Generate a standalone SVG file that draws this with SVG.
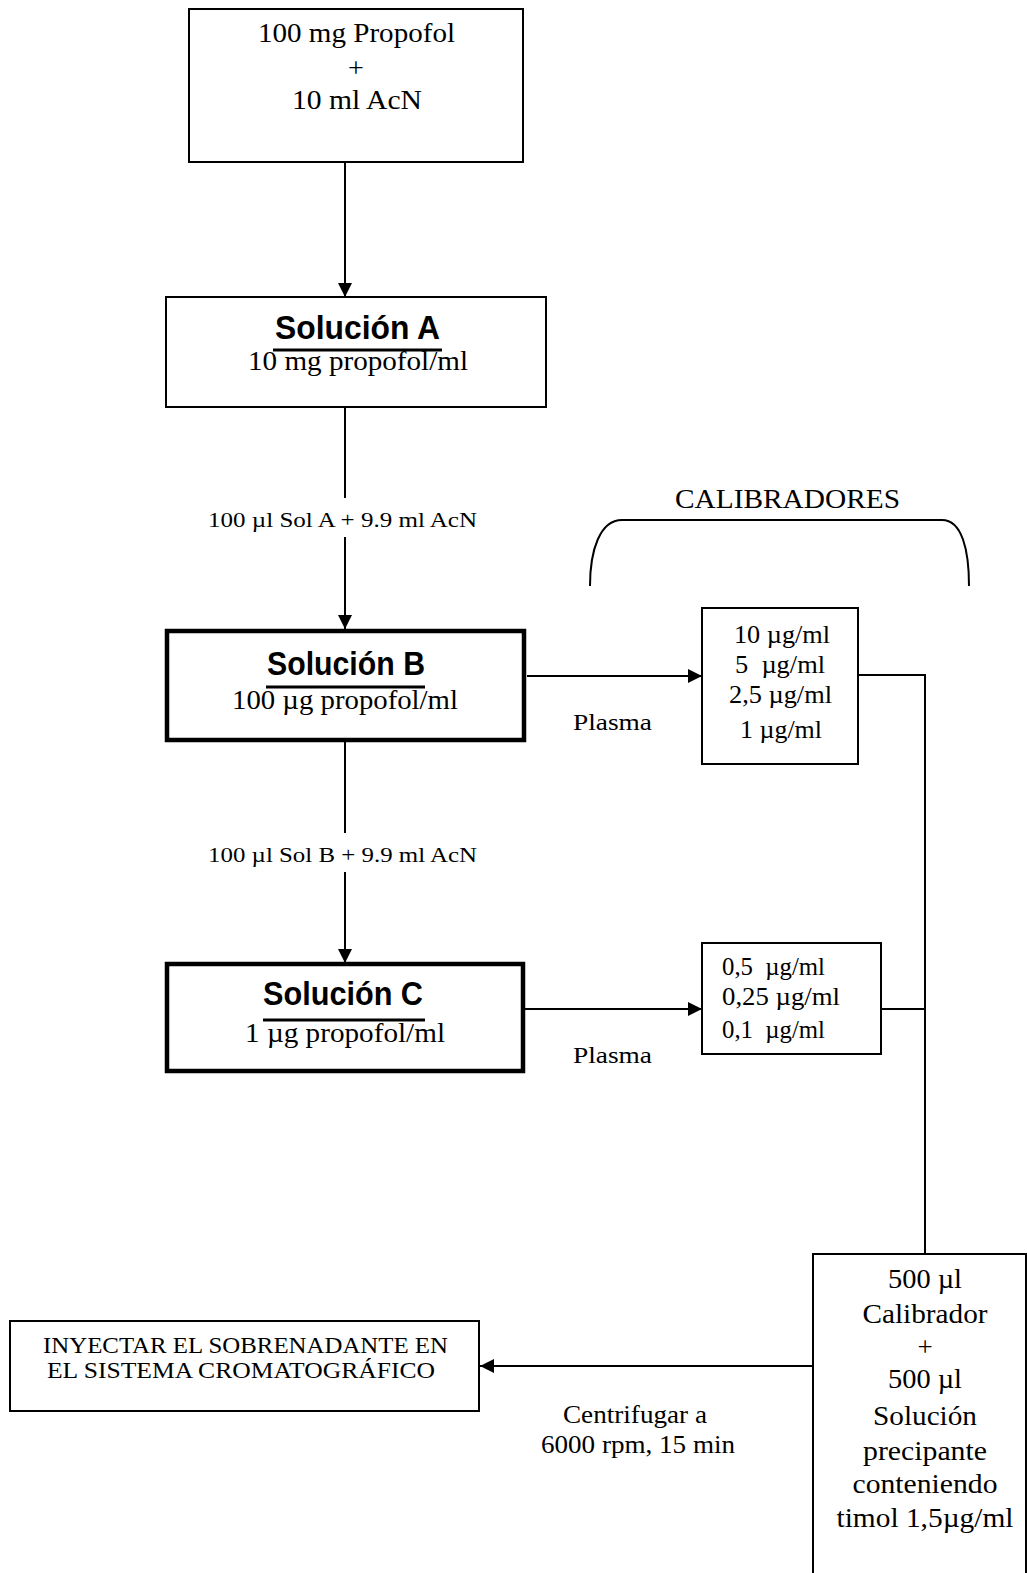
<svg xmlns="http://www.w3.org/2000/svg" width="1027" height="1573" viewBox="0 0 1027 1573">
<style>
.box{fill:#fff;stroke:#000;stroke-width:2}
.thick{fill:#fff;stroke:#000;stroke-width:4.5}
.t{font-family:"Liberation Serif","Times New Roman",serif;fill:#000}
.h{font-family:"Liberation Sans",Arial,sans-serif;font-weight:bold;fill:#000}
.c{text-anchor:middle}
.ln{stroke:#000;stroke-width:2;fill:none}
.ul{stroke:#000;stroke-width:3}
</style>
<defs>
<marker id="ah" viewBox="0 0 14 14" refX="14" refY="7" markerWidth="14" markerHeight="14" markerUnits="userSpaceOnUse" orient="auto">
<path d="M0,0 L14,7 L0,14 Z" fill="#000"/>
</marker>
</defs>
<rect width="1027" height="1573" fill="#fff"/>

<g id="connectors">
<line class="ln" x1="345" y1="162" x2="345" y2="297" marker-end="url(#ah)"/>
<line class="ln" x1="345" y1="407" x2="345" y2="629" marker-end="url(#ah)"/>
<line class="ln" x1="345" y1="742" x2="345" y2="963" marker-end="url(#ah)"/>
<line class="ln" x1="527" y1="676" x2="702" y2="676" marker-end="url(#ah)"/>
<line class="ln" x1="525" y1="1009" x2="702" y2="1009" marker-end="url(#ah)"/>
<polyline class="ln" points="858,675 925,675 925,1254"/>
<line class="ln" x1="881" y1="1009" x2="925" y2="1009"/>
<line class="ln" x1="813" y1="1366" x2="480" y2="1366" marker-end="url(#ah)"/>
<path class="ln" d="M590,586 C590,550 600,520 622,520 L942,520 C962,520 969,550 969,586"/>
</g>

<g id="label-a">
<rect x="200" y="498" width="285" height="39" fill="#fff"/>
<text class="t" x="208" y="527" font-size="22" textLength="269" lengthAdjust="spacingAndGlyphs">100 µl Sol A + 9.9 ml AcN</text>
</g>
<g id="label-b">
<rect x="200" y="833" width="285" height="39" fill="#fff"/>
<text class="t" x="208" y="862" font-size="22" textLength="269" lengthAdjust="spacingAndGlyphs">100 µl Sol B + 9.9 ml AcN</text>
</g>
<g id="label-plasma-1"><text class="t" x="573" y="730" font-size="24" textLength="79" lengthAdjust="spacingAndGlyphs">Plasma</text></g>
<g id="label-plasma-2"><text class="t" x="573" y="1063" font-size="24" textLength="79" lengthAdjust="spacingAndGlyphs">Plasma</text></g>
<g id="label-calibradores"><text class="t" x="675" y="508" font-size="27" textLength="225" lengthAdjust="spacingAndGlyphs">CALIBRADORES</text></g>
<g id="label-centrifugar">
<text class="t" x="563" y="1423" font-size="26" textLength="144" lengthAdjust="spacingAndGlyphs">Centrifugar a</text>
<text class="t" x="541" y="1453" font-size="26" textLength="194" lengthAdjust="spacingAndGlyphs">6000 rpm, 15 min</text>
</g>

<g id="node-start">
<rect class="box" x="189" y="9" width="334" height="153"/>
<text class="t" x="258" y="42" font-size="28" textLength="197" lengthAdjust="spacingAndGlyphs">100 mg Propofol</text>
<text class="t c" x="356" y="77" font-size="28">+</text>
<text class="t" x="292" y="109" font-size="28" textLength="130" lengthAdjust="spacingAndGlyphs">10 ml AcN</text>
</g>

<g id="node-sol-a">
<rect class="box" x="166" y="297" width="380" height="110"/>
<text class="h" x="275" y="339" font-size="34" textLength="165" lengthAdjust="spacingAndGlyphs">Solución  A</text>
<line class="ul" x1="273" y1="350" x2="442" y2="350"/>
<text class="t" x="248" y="370" font-size="28" textLength="220" lengthAdjust="spacingAndGlyphs">10 mg propofol/ml</text>
</g>

<g id="node-sol-b">
<rect class="thick" x="167" y="631" width="357" height="109"/>
<text class="h" x="267" y="675" font-size="34" textLength="158" lengthAdjust="spacingAndGlyphs">Solución B</text>
<line class="ul" x1="266" y1="687" x2="425" y2="687"/>
<text class="t" x="232" y="709" font-size="28" textLength="226" lengthAdjust="spacingAndGlyphs">100 µg propofol/ml</text>
</g>

<g id="node-sol-c">
<rect class="thick" x="167" y="964" width="356" height="107"/>
<text class="h" x="263" y="1005" font-size="34" textLength="160" lengthAdjust="spacingAndGlyphs">Solución C</text>
<line class="ul" x1="263" y1="1020" x2="425" y2="1020"/>
<text class="t" x="245" y="1042" font-size="28" textLength="200" lengthAdjust="spacingAndGlyphs">1 µg propofol/ml</text>
</g>

<g id="node-cal-1">
<rect class="box" x="702" y="608" width="156" height="156"/>
<text class="t" x="734" y="643" font-size="26" textLength="96" lengthAdjust="spacingAndGlyphs">10 µg/ml</text>
<text class="t" x="735" y="673" font-size="26" textLength="90" lengthAdjust="spacingAndGlyphs" xml:space="preserve">5  µg/ml</text>
<text class="t" x="729" y="703" font-size="26" textLength="103" lengthAdjust="spacingAndGlyphs">2,5 µg/ml</text>
<text class="t" x="740" y="738" font-size="26" textLength="82" lengthAdjust="spacingAndGlyphs">1 µg/ml</text>
</g>

<g id="node-cal-2">
<rect class="box" x="702" y="943" width="179" height="111"/>
<text class="t" x="722" y="975" font-size="26" textLength="103" lengthAdjust="spacingAndGlyphs" xml:space="preserve">0,5  µg/ml</text>
<text class="t" x="722" y="1005" font-size="26" textLength="118" lengthAdjust="spacingAndGlyphs">0,25 µg/ml</text>
<text class="t" x="722" y="1038" font-size="26" textLength="103" lengthAdjust="spacingAndGlyphs" xml:space="preserve">0,1  µg/ml</text>
</g>

<g id="node-mezcla">
<rect class="box" x="813" y="1254" width="213" height="340"/>
<text class="t c" x="925" y="1288" font-size="27" textLength="74" lengthAdjust="spacingAndGlyphs">500 µl</text>
<text class="t c" x="925" y="1323" font-size="27" textLength="125" lengthAdjust="spacingAndGlyphs">Calibrador</text>
<text class="t c" x="925" y="1356" font-size="27">+</text>
<text class="t c" x="925" y="1388" font-size="27" textLength="74" lengthAdjust="spacingAndGlyphs">500 µl</text>
<text class="t c" x="925" y="1425" font-size="27" textLength="104" lengthAdjust="spacingAndGlyphs">Solución</text>
<text class="t c" x="925" y="1460" font-size="27" textLength="124" lengthAdjust="spacingAndGlyphs">precipante</text>
<text class="t c" x="925" y="1493" font-size="27" textLength="145" lengthAdjust="spacingAndGlyphs">conteniendo</text>
<text class="t c" x="925" y="1527" font-size="27" textLength="177" lengthAdjust="spacingAndGlyphs">timol 1,5µg/ml</text>
</g>

<g id="node-inyectar">
<rect class="box" x="10" y="1321" width="469" height="90"/>
<text class="t" x="43" y="1353" font-size="23" textLength="405" lengthAdjust="spacingAndGlyphs">INYECTAR EL SOBRENADANTE EN</text>
<text class="t" x="47" y="1378" font-size="23" textLength="388" lengthAdjust="spacingAndGlyphs">EL SISTEMA CROMATOGRÁFICO</text>
</g>
</svg>
